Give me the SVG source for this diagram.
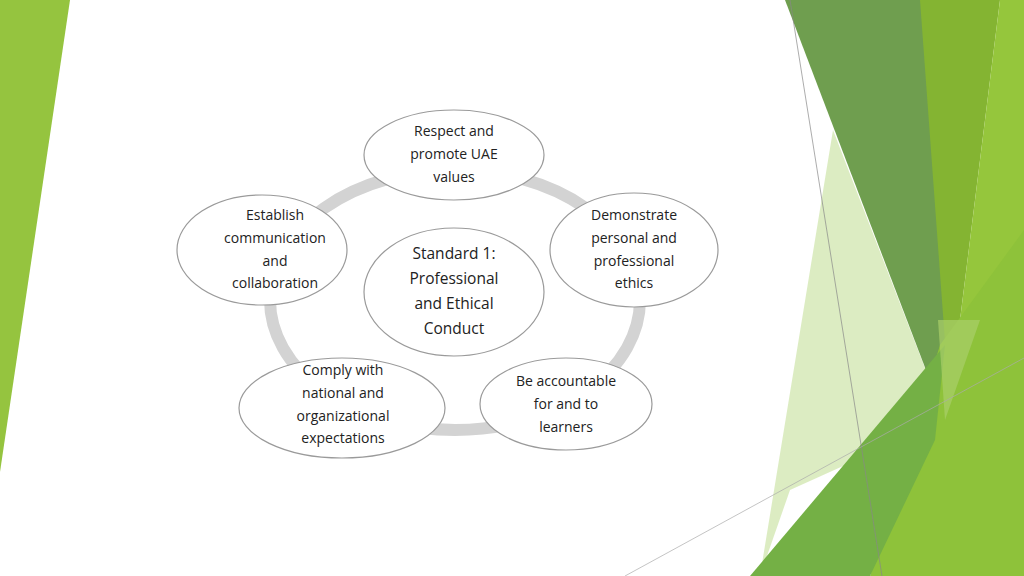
<svg xmlns="http://www.w3.org/2000/svg" width="1024" height="576" viewBox="0 0 1024 576">
<style>
.n{fill:#fff;stroke:#9a9a9a;stroke-width:1.2}
.t{font-family:"Open Sans","Liberation Sans",sans-serif;font-size:14px;fill:#222;text-anchor:middle}
.c{font-size:15.5px}
</style>
<rect width="1024" height="576" fill="#fff"/>
<g id="decor">
<polygon points="0,0 70,0 0,472" fill="#95c43f"/>
<polygon points="833,130 945,420 790,490 760,576" fill="#d8eabb" opacity="0.9"/>
<polygon points="785,0 925,0 960,320 945,420" fill="#6f9e4f"/>
<polygon points="920,0 1000,0 960,320 950,410" fill="#84b432"/>
<polygon points="1000,0 1024,0 1024,576 930,576 950,410 960,320" fill="#95c63c"/>
<polygon points="940,345 1024,230 1024,576 870,576" fill="#8ec23a"/>
<polygon points="750,576 945,345 935,440 870,576" fill="#74b045"/>
<polygon points="938,320 980,320 945,420" fill="#a9cf6a" opacity="0.7"/>
<line x1="790" y1="0" x2="882" y2="576" stroke="#888" stroke-width="0.7"/>
<line x1="625" y1="576" x2="1024" y2="358" stroke="#aaa" stroke-width="0.7"/>
</g>
<g id="connectors">
<ellipse cx="455" cy="300" rx="185" ry="130" fill="none" stroke="#d3d3d3" stroke-width="12"/>
</g>
<g id="top"><ellipse class="n" cx="454" cy="155" rx="90" ry="45"/>
<text class="t" x="454" y="136">Respect and</text><text class="t" x="454" y="159">promote UAE</text><text class="t" x="454" y="182">values</text></g>
<g id="left"><ellipse class="n" cx="262" cy="250" rx="85" ry="55"/>
<text class="t" x="275" y="220">Establish</text><text class="t" x="275" y="243">communication</text><text class="t" x="275" y="266">and</text><text class="t" x="275" y="288">collaboration</text></g>
<g id="right"><ellipse class="n" cx="634" cy="250" rx="84" ry="57"/>
<text class="t" x="634" y="220">Demonstrate</text><text class="t" x="634" y="243">personal and</text><text class="t" x="634" y="266">professional</text><text class="t" x="634" y="288">ethics</text></g>
<g id="center"><ellipse class="n" cx="454" cy="292" rx="90" ry="64"/>
<text class="t c" x="454" y="259">Standard 1:</text><text class="t c" x="454" y="284">Professional</text><text class="t c" x="454" y="309">and Ethical</text><text class="t c" x="454" y="334">Conduct</text></g>
<g id="bottomleft"><ellipse class="n" cx="342" cy="408" rx="103" ry="50"/>
<text class="t" x="343" y="375">Comply with</text><text class="t" x="343" y="398">national and</text><text class="t" x="343" y="421">organizational</text><text class="t" x="343" y="443">expectations</text></g>
<g id="bottomright"><ellipse class="n" cx="566" cy="404" rx="86" ry="46"/>
<text class="t" x="566" y="386">Be accountable</text><text class="t" x="566" y="409">for and to</text><text class="t" x="566" y="432">learners</text></g>
</svg>
